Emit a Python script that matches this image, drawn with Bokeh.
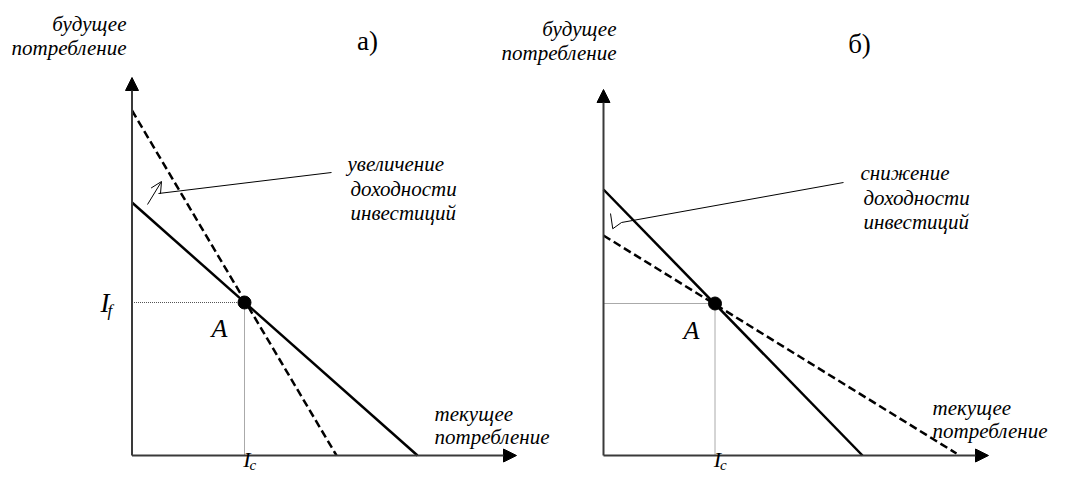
from bokeh.plotting import figure
from bokeh.models import Range1d, Arrow, NormalHead, OpenHead, Label
from bokeh.embed import file_html
from bokeh.resources import INLINE

# ---------------- data (abstract units) ----------------
# panel a) : increase of investment return
a_ic, a_if = 4.5, 6.12
a_solid_x = [0, 11.42]
a_solid_y = [10.12, 0]
a_dash_x = [0, 8.18]
a_dash_y = [13.8, 0]
a_axis_x_end = 15.38
a_axis_y_end = 15.12
a_title = "а)"
a_note = ["увеличение", "доходности", "инвестиций"]
a_leader_x = [7.98, 1.06]
a_leader_y = [11.32, 10.48]
a_arrow = (0.62, 10.04, 1.18, 10.96)

# panel б) : decrease of investment return
b_ic, b_if = 4.46, 6.08
b_solid_x = [0, 10.36]
b_solid_y = [10.64, 0]
b_dash_x = [0, 14.12]
b_dash_y = [8.8, 0.08]
b_axis_x_end = 15.4
b_axis_y_end = 14.64
b_title = "б)"
b_note = ["снижение", "доходности", "инвестиций"]
b_leader_x = [9.6, 0.72]
b_leader_y = [10.92, 9.32]
b_vee_x = [0.28, 0.37, 0.72]
b_vee_y = [9.68, 9.07, 9.32]

y_label = ["будущее", "потребление"]
x_label = ["текущее", "потребление"]
point_label = "A"

FONT = "Liberation Serif"

p = figure(width=1054, height=472, x_range=Range1d(-5.26, 36.9),
           y_range=Range1d(-0.68, 18.2), output_backend="svg",
           toolbar_location=None, min_border=0, title=None)
p.extra_x_ranges = {"b": Range1d(-24.12, 18.04)}
p.axis.visible = False
p.grid.visible = False
p.outline_line_color = None
p.background_fill_color = "white"


def txt(xs, ys, ts, rn, size, align="left", italic=True, baseline="middle", font=FONT):
    for x, y, t in zip(xs, ys, ts):
        p.add_layout(Label(x=x, y=y, text=t, x_range_name=rn, text_font=font,
                           text_font_style="italic" if italic else "normal",
                           text_font_size=size, text_align=align,
                           text_baseline=baseline, text_color="black"))


def panel(rn, ic, iff, sx, sy, dx, dy, axx, axy, title, note, lx, ly,
          ylab_pos, title_pos, note_pos, xlab_pos, a_pos):
    # axes with arrow heads
    for (xe, ye) in [(axx, 0), (0, axy)]:
        p.add_layout(Arrow(x_start=0, y_start=0, x_end=xe, y_end=ye,
                           x_range_name=rn, line_color="#3a3a3a", line_width=2,
                           end=NormalHead(size=13, fill_color="black",
                                          line_color="black", line_width=1)))
    # dotted guides
    p.line([0, ic], [iff, iff], x_range_name=rn, line_color="#555555",
           line_width=1, line_dash="1 1")
    p.line([ic, ic], [0, iff], x_range_name=rn, line_color="#555555",
           line_width=1, line_dash="1 1")
    # budget lines
    p.line(sx, sy, x_range_name=rn, line_color="black", line_width=2.5)
    p.line(dx, dy, x_range_name=rn, line_color="black", line_width=2.5,
           line_dash="8 4")
    p.scatter([ic], [iff], x_range_name=rn, size=13, color="black")
    # leader line
    p.line(lx, ly, x_range_name=rn, line_color="black", line_width=1)
    # texts
    txt([ylab_pos[0]] * 2, [ylab_pos[1], ylab_pos[1] - 0.97], y_label, rn, "21px", "right")
    txt([title_pos[0]], [title_pos[1]], [title], rn, "27px", "center", italic=False)
    txt([note_pos[0] - 0.12, note_pos[0], note_pos[0]],
        [note_pos[1], note_pos[1] - 1.0, note_pos[1] - 1.98], note, rn, "21px")
    txt([xlab_pos[0]] * 2, [xlab_pos[1], xlab_pos[1] - 0.95], x_label, rn, "21px")
    txt([a_pos[0]], [a_pos[1]], [point_label], rn, "26px", "center")
    # I_c label (squeezed just under the axis)
    txt([ic + 0.24], [-0.66], ["I"], rn, "22px", "right", baseline="bottom")
    txt([ic + 0.2], [-0.68], ["c"], rn, "15px", "left", baseline="bottom")


panel("default", a_ic, a_if, a_solid_x, a_solid_y, a_dash_x, a_dash_y,
      a_axis_x_end, a_axis_y_end, a_title, a_note, a_leader_x, a_leader_y,
      (-0.22, 17.28), (9.42, 16.6), (8.74, 11.68), (12.1, 1.68), (3.5, 5.08))
# arrow of the shift (panel a)
p.add_layout(Arrow(x_start=a_arrow[0], y_start=a_arrow[1], x_end=a_arrow[2], y_end=a_arrow[3],
                   line_color="black", line_width=1,
                   end=OpenHead(size=11, line_color="black", line_width=1)))
# I_f label (panel a only)
txt([-0.9], [a_if], ["I"], "default", "27px", "right")
txt([-0.98], [a_if - 0.32], ["f"], "default", "17px", "left")

panel("b", b_ic, b_if, b_solid_x, b_solid_y, b_dash_x, b_dash_y,
      b_axis_x_end, b_axis_y_end, b_title, b_note, b_leader_x, b_leader_y,
      (0.52, 17.08), (10.24, 16.48), (10.4, 11.32), (13.16, 1.92), (3.52, 5.0))
# open arrow head of the shift (panel б)
p.line(b_vee_x, b_vee_y, x_range_name="b", line_color="black", line_width=1)

open("out.html", "w").write(file_html(p, INLINE))
